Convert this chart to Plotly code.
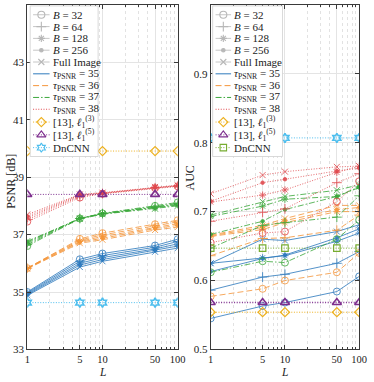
import plotly.graph_objects as go

W, H = 374, 382

L = [1, 5, 10, 50, 100]
L_ticks = [1, 5, 10, 50, 100]
L_minor = [2, 3, 4, 6, 7, 8, 9, 20, 30, 40, 60, 70, 80, 90]

B_labels = ["<i>B</i> = 32", "<i>B</i> = 64", "<i>B</i> = 128", "<i>B</i> = 256", "Full Image"]
tau_labels = ["<i>τ</i><sub>PSNR</sub> = 35", "<i>τ</i><sub>PSNR</sub> = 36",
              "<i>τ</i><sub>PSNR</sub> = 37", "<i>τ</i><sub>PSNR</sub> = 38"]
ref_labels = ["[13], <i>ℓ</i><sub>1</sub><sup>(3)</sup>", "[13], <i>ℓ</i><sub>1</sub><sup>(5)</sup>", "DnCNN"]

# PSNR, rows: B=32, B=64, B=128, B=256, Full Image
psnr_tau35 = [
    [35.00, 36.14, 36.34, 36.62, 36.84],
    [34.97, 36.07, 36.27, 36.56, 36.76],
    [34.94, 36.00, 36.20, 36.50, 36.68],
    [34.91, 35.94, 36.13, 36.45, 36.60],
    [34.88, 35.87, 36.07, 36.40, 36.53],
]
psnr_tau36 = [
    [35.83, 36.85, 37.05, 37.36, 37.50],
    [35.83, 36.81, 36.99, 37.31, 37.44],
    [35.82, 36.77, 36.93, 37.26, 37.38],
    [35.82, 36.74, 36.87, 37.21, 37.32],
    [35.81, 36.70, 36.82, 37.16, 37.26],
]
psnr_tau37 = [
    [36.60, 37.56, 37.74, 38.00, 38.12],
    [36.65, 37.56, 37.73, 37.97, 38.08],
    [36.70, 37.57, 37.73, 37.95, 38.05],
    [36.74, 37.56, 37.72, 37.93, 38.03],
    [36.77, 37.55, 37.71, 37.90, 38.00],
]
psnr_tau38 = [
    [37.45, 38.29, 38.42, 38.62, 38.68],
    [37.52, 38.33, 38.43, 38.63, 38.69],
    [37.58, 38.36, 38.44, 38.64, 38.70],
    [37.64, 38.38, 38.45, 38.65, 38.71],
    [37.70, 38.40, 38.46, 38.66, 38.72],
]
psnr_l13 = [39.91, 39.91, 39.91, 39.91, 39.91]
psnr_l15 = [38.40, 38.40, 38.40, 38.40, 38.40]
psnr_dncnn = [34.63, 34.63, 34.63, 34.63, 34.63]

# AUC, rows: B=32, B=64, B=128, B=256, Full Image
auc_tau35 = [
    [0.545, 0.563, 0.568, 0.584, 0.606],
    [0.586, 0.605, 0.609, 0.625, 0.642],
    [0.625, 0.633, 0.636, 0.657, 0.669],
    [0.613, 0.632, 0.637, 0.662, 0.675],
    [0.625, 0.660, 0.658, 0.671, 0.681],
]
auc_tau36 = [
    [0.577, 0.588, 0.600, 0.612, 0.640],
    [0.636, 0.661, 0.662, 0.673, 0.695],
    [0.664, 0.674, 0.684, 0.700, 0.700],
    [0.665, 0.677, 0.687, 0.703, 0.706],
    [0.666, 0.680, 0.690, 0.709, 0.709],
]
auc_tau37 = [
    [0.612, 0.628, 0.626, 0.660, 0.688],
    [0.647, 0.680, 0.684, 0.692, 0.723],
    [0.693, 0.708, 0.718, 0.722, 0.736],
    [0.667, 0.686, 0.703, 0.722, 0.735],
    [0.695, 0.7145, 0.722, 0.731, 0.739],
]
auc_tau38 = [
    [0.655, 0.669, 0.671, 0.7145, 0.744],
    [0.686, 0.699, 0.704, 0.742, 0.755],
    [0.714, 0.724, 0.7315, 0.757, 0.766],
    [0.715, 0.742, 0.747, 0.759, 0.763],
    [0.726, 0.753, 0.758, 0.765, 0.766],
]
auc_l13 = [0.554, 0.554, 0.554, 0.554, 0.554]
auc_l15 = [0.568, 0.568, 0.568, 0.568, 0.568]
auc_dncnn = [0.647, 0.647, 0.647, 0.647, 0.647]
auc_cyan = [0.807, 0.807, 0.807, 0.807, 0.807]

# ---------------- styles ----------------
FONT = "Liberation Serif"
tau_colors = ["#2f7bbd", "#f5953a", "#3ca83c", "#e0474c"]
tau_dash = ["solid", "6px,3px", "6px,2px,1.5px,2px", "1px,1.6px"]
B_symbols = ["circle-open", "cross-thin-open", "asterisk-open", "circle", "x-thin-open"]
B_sizes = [7, 7, 6, 3.5, 6]
YEL, PUR, CYA, GRN = "#EDB120", "#7E2F8E", "#4DBEEE", "#77AC30"

fig = go.Figure()


def add_group(groups, xa, ya):
    for ti, grp in enumerate(groups):
        for bi, vals in enumerate(grp):
            fig.add_trace(go.Scatter(
                x=L, y=vals, xaxis=xa, yaxis=ya, mode="lines+markers", showlegend=False,
                line=dict(color=tau_colors[ti], dash=tau_dash[ti], width=0.9),
                marker=dict(symbol=B_symbols[bi], size=B_sizes[bi], color=tau_colors[ti],
                            line=dict(color=tau_colors[ti], width=0.9)),
                opacity=0.9))


def add_ref(vals, color, symbol, size, xa, ya, lw=1.0, mlw=1.2):
    fig.add_trace(go.Scatter(
        x=L, y=vals, xaxis=xa, yaxis=ya, mode="lines+markers", showlegend=False,
        line=dict(color=color, dash="1px,1.6px", width=lw),
        marker=dict(symbol=symbol, size=size, color=color, line=dict(color=color, width=mlw))))


add_group([psnr_tau35, psnr_tau36, psnr_tau37, psnr_tau38], "x", "y")
add_ref(psnr_l13, YEL, "diamond-open", 7, "x", "y")
add_ref(psnr_l15, PUR, "triangle-up-open", 8, "x", "y", lw=1.0, mlw=1.6)
add_ref(psnr_dncnn, CYA, "hexagram-open", 7, "x", "y", mlw=1.6)

add_group([auc_tau35, auc_tau36, auc_tau37, auc_tau38], "x2", "y2")
add_ref(auc_l13, YEL, "diamond-open", 7, "x2", "y2")
add_ref(auc_l15, PUR, "triangle-up-open", 8, "x2", "y2", lw=1.4, mlw=1.6)
add_ref(auc_dncnn, GRN, "square-open", 6.5, "x2", "y2")
add_ref(auc_cyan, CYA, "hexagram-open", 7, "x2", "y2", mlw=1.6)

# ---------------- manual legends (pixel overlay axis) ----------------
annotations = []
leg_rows = [15, 27, 39, 51, 63, 75, 87, 99, 111, 124, 137, 150]


def draw_legend(box_x0, box_x1, line_x0, line_x1, text_x, ref_specs):
    fig.add_trace(go.Scatter(
        x=[box_x0, box_x1, box_x1, box_x0, box_x0], y=[6, 6, 159, 159, 6],
        xaxis="x3", yaxis="y3", mode="lines", fill="toself", fillcolor="white",
        line=dict(color="#cfcfcf", width=0.8), showlegend=False, hoverinfo="skip"))
    entries = []
    for bi in range(5):
        entries.append((B_labels[bi], "#b8b8b8", "solid", B_symbols[bi], B_sizes[bi], 0.8))
    for ti in range(4):
        entries.append((tau_labels[ti], tau_colors[ti], tau_dash[ti], None, 0, 1.0))
    entries += ref_specs
    xm = (line_x0 + line_x1) / 2
    for (lab, col, dash, sym, sz, lw), yy in zip(entries, leg_rows):
        fig.add_trace(go.Scatter(x=[line_x0, line_x1], y=[yy, yy], xaxis="x3", yaxis="y3",
                                 mode="lines", line=dict(color=col, dash=dash, width=lw),
                                 showlegend=False, hoverinfo="skip"))
        if sym:
            fig.add_trace(go.Scatter(x=[xm], y=[yy], xaxis="x3", yaxis="y3", mode="markers",
                                     marker=dict(symbol=sym, size=sz, color=col,
                                                 line=dict(color=col, width=1.1)),
                                     showlegend=False, hoverinfo="skip"))
        annotations.append(dict(x=text_x, y=yy, xref="x3", yref="y3", text=lab,
                                showarrow=False, xanchor="left", yanchor="middle",
                                font=dict(family=FONT, size=11, color="#222")))


draw_legend(28, 98, 31, 48, 49, [
    (ref_labels[0], YEL, "1px,1.6px", "diamond-open", 7, 1.0),
    (ref_labels[1], PUR, "1px,1.6px", "triangle-up-open", 8, 1.0),
    (ref_labels[2], CYA, "1px,1.6px", "hexagram-open", 7, 1.0),
])
draw_legend(216, 288, 219, 235, 236, [
    (ref_labels[0], YEL, "1px,1.6px", "diamond-open", 7, 1.0),
    (ref_labels[1], PUR, "1px,1.6px", "triangle-up-open", 8, 1.0),
    (ref_labels[2], GRN, "1px,1.6px", "square-open", 6.5, 1.0),
])

# axis titles
annotations += [
    dict(x=8, y=184, xref="x3", yref="y3", text="PSNR [dB]", textangle=-90, showarrow=False,
         xanchor="center", yanchor="middle", font=dict(family=FONT, size=12, color="#222")),
    dict(x=193, y=181, xref="x3", yref="y3", text="AUC", textangle=-90, showarrow=False,
         xanchor="center", yanchor="middle", font=dict(family=FONT, size=12, color="#222")),
    dict(x=102.5, y=-0.008, xref="x3", yref="paper", text="<i>L</i>", showarrow=False,
         xanchor="center", yanchor="bottom", borderpad=0,
         font=dict(family=FONT, size=11.5, color="#222")),
    dict(x=290.5, y=-0.008, xref="x3", yref="paper", text="<i>L</i>", showarrow=False,
         xanchor="center", yanchor="bottom", borderpad=0,
         font=dict(family=FONT, size=11.5, color="#222")),
]

AX = "#3a3a3a"
common_x = dict(type="log", range=[0, 2], tickvals=L_ticks, ticktext=[str(v) for v in L_ticks],
                ticks="inside", ticklen=4, tickcolor=AX, showline=True, linecolor=AX, linewidth=1,
                mirror="ticks", showgrid=True, gridcolor="#e4e4e4", gridwidth=1, zeroline=False,
                tickfont=dict(family=FONT, size=10.5, color="#222"),
                minor=dict(tickvals=L_minor, ticks="inside", ticklen=2, tickcolor=AX,
                           showgrid=True, gridcolor="#e2e2e2", griddash="dot", gridwidth=1))
ydom = [1 - 355 / H, 1 - 5 / H]

fig.update_layout(
    width=W, height=H, margin=dict(l=0, r=0, t=0, b=0),
    paper_bgcolor="white", plot_bgcolor="rgba(0,0,0,0)", showlegend=False,
    font=dict(family=FONT, size=11, color="#222"),
    xaxis=dict(domain=[25 / W, 180 / W], anchor="y", **common_x),
    xaxis2=dict(domain=[214 / W, 367 / W], anchor="y2", **common_x),
    yaxis=dict(domain=ydom, anchor="x", range=[33, 45], tickvals=[33, 35, 37, 39, 41, 43, 45],
               ticks="inside", ticklen=4, tickcolor=AX, showline=True, linecolor=AX, linewidth=1,
               mirror="ticks", showgrid=True, gridcolor="#e4e4e4", zeroline=False,
               tickfont=dict(family=FONT, size=11, color="#222")),
    yaxis2=dict(domain=ydom, anchor="x2", range=[0.5, 1.0], tickvals=[0.5, 0.6, 0.7, 0.8, 0.9, 1.0],
                ticktext=["0.5", "0.6", "0.7", "0.8", "0.9", "1"],
                ticks="inside", ticklen=4, tickcolor=AX, showline=True, linecolor=AX, linewidth=1,
                mirror="ticks", showgrid=True, gridcolor="#e4e4e4", zeroline=False,
                tickfont=dict(family=FONT, size=11, color="#222")),
    xaxis3=dict(domain=[0, 1], range=[0, W], visible=False, anchor="y3", fixedrange=True),
    yaxis3=dict(domain=[0, 1], range=[H, 0], visible=False, anchor="x3", fixedrange=True),
    annotations=annotations,
)

fig.write_html("out.html", config={"displayModeBar": False},
               post_script="document.body.style.margin='0';")
